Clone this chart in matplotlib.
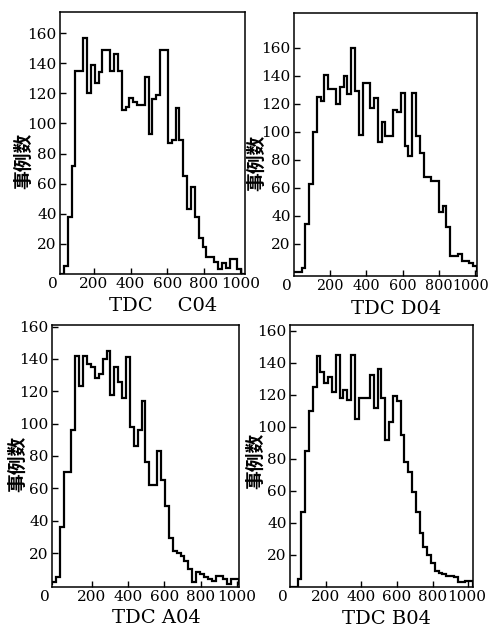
import matplotlib
matplotlib.use("Agg")
import matplotlib.pyplot as plt
import matplotlib.transforms as mtransforms
import numpy as np

plt.rcParams['font.family'] = ['DejaVu Serif']

# ---- data (counts per TDC bin) ----
counts_c04 = [0, 5, 38, 72, 135, 135, 157, 120, 139, 127,
              134, 149, 149, 135, 146, 135, 109, 111, 117, 114,
              112, 112, 131, 93, 116, 119, 149, 149, 87, 89,
              110, 89, 65, 43, 58, 38, 24, 18, 11, 11,
              8, 3, 7, 4, 10, 10, 3, 0]
range_c04 = (15, 1024)

counts_d04 = [0, 0, 3, 34, 63, 100, 125, 122, 141, 131,
              131, 120, 132, 140, 127, 160, 129, 98, 135, 135,
              117, 124, 93, 107, 97, 97, 116, 114, 128, 90,
              83, 128, 97, 85, 68, 68, 65, 65, 43, 47,
              32, 11, 11, 13, 8, 8, 6, 4]
range_d04 = (0, 1010)

counts_a04 = [2, 5, 36, 70, 70, 96, 142, 123, 142, 137,
              135, 128, 131, 140, 145, 118, 135, 126, 116, 141,
              98, 86, 96, 114, 76, 62, 62, 83, 65, 49,
              29, 21, 20, 18, 15, 10, 2, 8, 7, 5,
              4, 3, 6, 6, 4, 1, 4, 4]
range_a04 = (-20, 1011)

counts_b04 = [0, 0, 5, 47, 85, 110, 125, 144, 134, 127,
              131, 122, 145, 118, 123, 117, 145, 105, 118, 118,
              118, 132, 112, 136, 118, 92, 103, 119, 116, 95,
              78, 72, 59, 47, 34, 25, 20, 15, 10, 9,
              8, 7, 7, 6, 3, 3, 4, 4]
range_b04 = (0, 1026)

x_ticks = [200, 400, 600, 800, 1000]
y_ticks = [20, 40, 60, 80, 100, 120, 140, 160]
y_label = "事例数"
x_labels = ["TDC    C04", "TDC D04", "TDC A04", "TDC B04"]

fig = plt.figure(figsize=(4.89, 6.29), dpi=100)
fig.patch.set_facecolor("white")

panels = [
    dict(counts=counts_c04, rng=range_c04, ylim=(0, 174),
         rect=[0.1227, 0.5644, 0.3783, 0.4165], label=x_labels[0],
         xl=(0.56, -0.088), yl=(-0.146, 0.43), shift=0, xfs=11),
    dict(counts=counts_d04, rng=range_d04, ylim=(-3, 185),
         rect=[0.6012, 0.5612, 0.3742, 0.4181], label=x_labels[1],
         xl=(0.56, -0.091), yl=(-0.15, 0.43), shift=-4, xfs=10.3),
    dict(counts=counts_a04, rng=range_a04, ylim=(-1, 161),
         rect=[0.1063, 0.0668, 0.3824, 0.4165], label=x_labels[2],
         xl=(0.56, -0.083), yl=(-0.134, 0.47), shift=0, xfs=11),
    dict(counts=counts_b04, rng=range_b04, ylim=(0, 163.5),
         rect=[0.5930, 0.0668, 0.3742, 0.4165], label=x_labels[3],
         xl=(0.53, -0.088), yl=(-0.137, 0.48), shift=-2, xfs=11),
]

for p in panels:
    ax = fig.add_axes(p["rect"])
    edges = np.linspace(p["rng"][0], p["rng"][1], len(p["counts"]) + 1)
    ax.stairs(p["counts"], edges, color="black", linewidth=1.6, baseline=0)
    ax.set_xlim(p["rng"])
    ax.set_ylim(p["ylim"])
    ax.set_xticks(x_ticks)
    ax.set_yticks(y_ticks)
    ax.tick_params(direction="in", length=4, width=1.0, labelsize=11, pad=2.5,
                   colors="black")
    ax.tick_params(axis="x", labelsize=p["xfs"])
    for s in ax.spines.values():
        s.set_linewidth(1.1)
        s.set_color("black")
    if p["shift"]:
        lab = ax.get_xticklabels()[-1]
        off = mtransforms.ScaledTranslation(p["shift"] / 100.0, 0, fig.dpi_scale_trans)
        lab.set_transform(lab.get_transform() + off)
    ax.annotate("0", xy=(0, 0), xycoords="axes fraction", xytext=(-5, -2.5),
                textcoords="offset points", ha="center", va="top", fontsize=11)
    ax.set_xlabel(p["label"], fontsize=14)
    ax.xaxis.set_label_coords(*p["xl"])
    ax.set_ylabel(y_label, family=["Noto Sans CJK SC", "DejaVu Sans"],
                  fontweight="bold", fontsize=13.5)
    ax.yaxis.set_label_coords(*p["yl"])

fig.savefig("out.png", dpi=100, facecolor="white")
